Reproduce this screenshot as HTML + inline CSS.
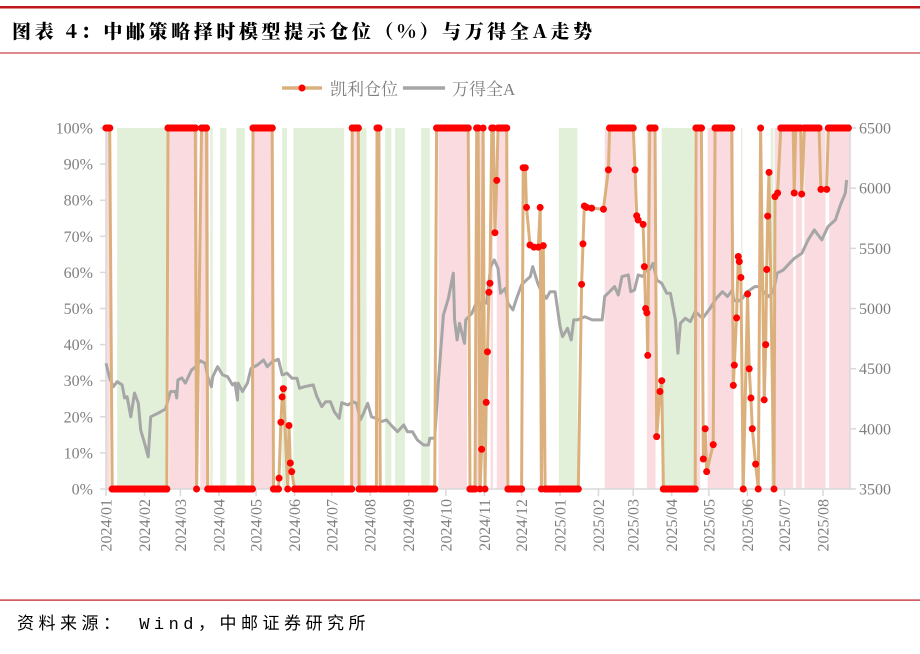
<!DOCTYPE html>
<html><head><meta charset="utf-8"><style>
body{margin:0;background:#fff;width:920px;height:649px;overflow:hidden;font-family:"Liberation Serif","Noto Serif CJK SC",serif;}
</style></head><body>
<svg id="chart" width="920" height="649" xmlns="http://www.w3.org/2000/svg">
<rect x="0" y="6" width="920" height="2.5" fill="#c0161e"/>
<text x="12" y="38" font-size="19" font-weight="900" letter-spacing="3.6" fill="#000" font-family="'Noto Serif CJK SC','Noto Sans CJK SC',serif">图表 4：中邮策略择时模型提示仓位（%）与万得全A走势</text>
<rect x="0" y="52.5" width="920" height="1" fill="#c0161e"/>
<g>
<g>
<line x1="282" y1="88" x2="322" y2="88" stroke="#dcb07c" stroke-width="3.5"/>
<circle cx="302" cy="88" r="3.5" fill="#ff0000"/>
<text x="330" y="95" font-size="17" fill="#7f7f7f" font-family="'Noto Serif CJK SC',serif">凯利仓位</text>
</g>
<g>
<line x1="403" y1="88" x2="445" y2="88" stroke="#a6a6a6" stroke-width="3.5"/>
<text x="452" y="95" font-size="17" fill="#7f7f7f" font-family="'Liberation Serif','Noto Serif CJK SC',serif">万得全A</text>
</g>
</g>
<g id="plot"></g>
<rect x="0" y="599.5" width="920" height="1.2" fill="#c0161e"/>
<text x="17" y="629" font-size="17" letter-spacing="4.5" fill="#000" font-family="'Liberation Mono','Noto Sans CJK SC',monospace">资料来源：  Wind，中邮证券研究所</text>
</svg>
<script>
// Dates are days since 2024-01-01
const posDays=[0,3,5,37,49,50,72,73,77,81,82,118,118.5,134,135,139,139.5,141,142,143,146.5,147.5,148.6,149.7,152,198,198.5,203.4,204,218,218.5,220,221,265,266.5,292,293.4,297.5,298.8,300,301.5,302.8,304,305.5,306.5,307.5,308.7,309.5,311,312.2,313.5,315,316,323,324,335,336.3,338,339,341.8,345,348.5,350,351,352.5,354,380.7,383.4,384.5,385.6,387.5,391.5,401,405,406,425,426.5,427.8,429,433,434,435,436,436.7,438.4,442.6,443.9,446.6,448,449.3,475,475.6,480,481.5,483,484.2,489.5,491,504.4,505.7,506.5,508.3,509.7,510.5,511.8,513.7,517.2,518.5,519.9,521,523.7,525.8,527.7,530.6,531.8,532.6,533.4,534.5,538.5,539.3,541.4,544,554,554.8,556,560,560.8,563,574.8,576.3,581,582.3,598.4];
const posVals=[100,100,0,0,0,100,100,0,100,100,0,0,100,100,0,0,3,18.5,25.5,27.8,0,17.6,7.2,4.8,0,0,100,100,0,0,100,100,0,0,100,100,0,0,100,100,0,11,100,0,24,38,54.5,57,100,100,71,85.5,100,100,0,0,89,89,78,67.6,67,67,78,0,67.4,0,0,56.7,67.9,78.4,78,77.8,77.5,88.4,100,100,88.4,75.7,74.5,73.3,61.6,50,48.8,37,100,100,14.5,27,30,0,0,100,100,8.3,16.7,4.8,12.3,100,100,28.7,34.3,47.4,64.4,63,58.6,0,54,33.3,25.2,16.7,6.9,0,100,24.7,40,60.8,75.6,87.7,0,81,82,100,100,82,100,100,81.7,100,100,83,83,100,100];
const idxDays=[0,3,6,9,13,15,17,20,23,26,28,31,34,36,42,48,52,56,57,58,61,64,69,73,76,80,82,85,86,90,94,98,102,104,106,106.5,110,114,117,122,127,130,134,139,142,146,150,154,156,160,167,170,174,177,181,184,188,190,195,199,202,205,207,211,214,218,222,226,231,235,240,243,247,251,256,260,261,265,268,272,276,280,281,283,285,289,290,295,300,303,305,307,310,313,316,318,322,324,328,331,335,339,342,344,348,351,355,358,362,366,368,372,375,377,380,386,392,400,402,406,410,413,416,421,423,426,429,433,436,438,441,444,448,452,455,459,461,463,467,471,475,481,487,492,497,501,505,506,509,513,517,523,527,530,534,538,541,546,551,555,561,566,571,577,582,588,592,596,597];
const idxVals=[4545,4420,4350,4392,4365,4256,4267,4100,4298,4215,3990,3882,3768,4100,4130,4165,4310,4310,4256,4406,4423,4380,4490,4522,4566,4545,4433,4350,4433,4516,4448,4433,4365,4380,4240,4380,4310,4380,4503,4530,4572,4516,4558,4578,4448,4462,4420,4420,4337,4350,4365,4267,4184,4225,4225,4142,4087,4217,4198,4225,4212,4074,4115,4212,4100,4087,4060,4074,4018,3976,4032,3976,3976,3907,3866,3866,3921,3921,4406,4946,5085,5293,4905,4739,4877,4711,4905,4960,5085,4988,5057,5043,5348,5403,5335,5127,5168,5043,4988,5085,5196,5237,5265,5348,5210,5140,5085,5140,5140,4850,4766,4836,4739,4905,4905,4932,4905,4905,5100,5140,5182,5112,5265,5279,5140,5154,5279,5265,5335,5320,5376,5237,5210,5127,5127,4905,4628,4877,4919,4891,4974,4919,5002,5085,5140,5100,5154,5071,5057,5085,5140,5182,5182,5140,5100,5140,5293,5320,5376,5418,5459,5570,5653,5570,5681,5736,5860,5958,6068];
const pinkBands=[[0,3],[51,74],[76,83],[118.5,135],[198.5,205],[268,291],[298,303],[310,312],[315,323],[402,426],[436,443],[476,479],[485,506],[539,554],[556,561],[563,580],[583,600]];
const greenBands=[[9,49],[84,86],[92,97],[105,112],[142,146],[151,192],[205,210],[225,230],[233,241],[254,261],[365,380],[448,474],[512,513],[536,538]];
const monthTicks=["2024/01","2024/02","2024/03","2024/04","2024/05","2024/06","2024/07","2024/08","2024/09","2024/10","2024/11","2024/12","2025/01","2025/02","2025/03","2025/04","2025/05","2025/06","2025/07","2025/08"];
const monthDays=[0,31,60,91,121,152,182,213,244,274,305,335,366,397,425,456,486,517,547,578];
const leftTicks=[0,10,20,30,40,50,60,70,80,90,100];
const rightTicks=[3500,4000,4500,5000,5500,6000,6500];

const NS="http://www.w3.org/2000/svg";
const X0=106,PXD=1.2405,YT=128,YB=489;
const xS=d=>X0+d*PXD;
const yL=v=>YB-(v/100)*(YB-YT);
const yR=v=>YB-((v-3500)/3000)*(YB-YT);
const plot=document.getElementById('plot');
function mk(tag,attrs,parent){const e=document.createElementNS(NS,tag);for(const k in attrs)e.setAttribute(k,attrs[k]);(parent||plot).appendChild(e);return e;}

const bg=mk('g',{});


pinkBands.forEach(b=>{const r=mk('rect',{x:xS(b[0]),y:YT,width:Math.max(1,xS(b[1])-xS(b[0])),height:YB-YT,fill:'#f9dbe0'},bg);

});
greenBands.forEach(b=>{const r=mk('rect',{x:xS(b[0]),y:YT,width:Math.max(1,xS(b[1])-xS(b[0])),height:YB-YT,fill:'#e2f0d9'},bg);

});

const ax=mk('g',{});


mk('line',{x1:X0,y1:YT,x2:X0,y2:YB,stroke:'#d9d9d9','stroke-width':1.5},ax);
mk('line',{x1:850,y1:YT,x2:850,y2:YB,stroke:'#d9d9d9','stroke-width':1.5},ax);
mk('line',{x1:X0,y1:YB,x2:850,y2:YB,stroke:'#d9d9d9','stroke-width':1.5},ax);
leftTicks.forEach(v=>{const y=yL(v);mk('line',{x1:X0-6,y1:y,x2:X0,y2:y,stroke:'#d9d9d9','stroke-width':1.5},ax);
const t=mk('text',{x:93,y:y+5.5,'text-anchor':'end','font-size':16,fill:'#7f7f7f'},ax);t.textContent=v+'%';

});
rightTicks.forEach(v=>{const y=yR(v);mk('line',{x1:850,y1:y,x2:856,y2:y,stroke:'#d9d9d9','stroke-width':1.5},ax);
const t=mk('text',{x:859,y:y+5.5,'font-size':16,fill:'#7f7f7f'},ax);t.textContent=v;

});
monthTicks.forEach((m,i)=>{const x=xS(monthDays[i]);mk('line',{x1:x,y1:YB,x2:x,y2:YB+7,stroke:'#d9d9d9','stroke-width':1.5},ax);
const t=mk('text',{x:0,y:0,'text-anchor':'end','font-size':16,fill:'#7f7f7f',transform:`translate(${x+5.5},${YB+10}) rotate(-90)`},ax);t.textContent=m;

});

const ip=mk('path',{d:idxDays.map((d,i)=>(i?'L':'M')+xS(d).toFixed(1)+','+yR(idxVals[i]).toFixed(1)).join(''),fill:'none',stroke:'#a6a6a6','stroke-width':3,'stroke-linejoin':'round'});



const pp=mk('path',{d:posDays.map((d,i)=>(i?'L':'M')+xS(d).toFixed(1)+','+yL(posVals[i]).toFixed(1)).join(''),fill:'none',stroke:'#dcb07c','stroke-width':3,'stroke-linejoin':'round'});


const mg=mk('g',{});


for(let i=0;i<posDays.length-1;i++){
 if(posVals[i]===posVals[i+1]&&(posVals[i]===0||posVals[i]===100)){
  const l=mk('line',{x1:xS(posDays[i]),y1:yL(posVals[i]),x2:xS(posDays[i+1]),y2:yL(posVals[i]),stroke:'#ff0000','stroke-width':7,'stroke-linecap':'round'},mg);
  
  
 }
}
posDays.forEach((d,i)=>{const c=mk('circle',{cx:xS(d),cy:yL(posVals[i]),r:3.5,fill:'#ff0000'},mg);

});
</script>
</body></html>
